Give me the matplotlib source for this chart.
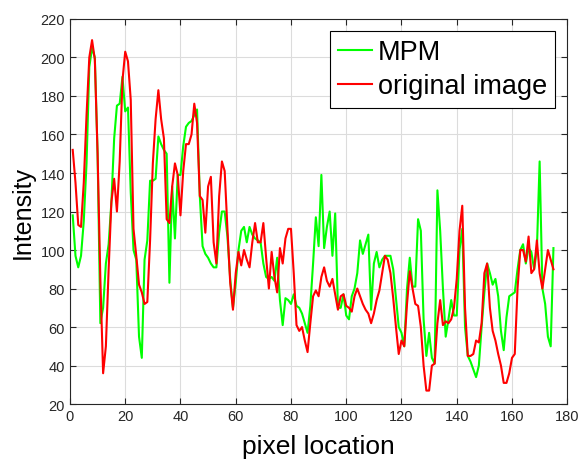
import numpy as np
import matplotlib
matplotlib.use('Agg')
import matplotlib.pyplot as plt

plt.rcParams['font.family'] = ['Liberation Sans', 'DejaVu Sans']

# pixel values, x = 1..175
mpm = [118, 97, 91, 97, 115, 145, 195, 205, 200, 150,
       62, 70, 93, 103, 125, 158, 175, 176, 190, 172,
       174, 130, 100, 95, 55, 44, 95, 105, 136, 136,
       137, 159, 155, 152, 150, 83, 133, 106, 139, 139,
       154, 164, 166, 167, 170, 173, 128, 102, 98, 96,
       93, 91, 91, 109, 120, 120, 107, 85, 70, 83,
       100, 110, 112, 104, 112, 108, 106, 105, 104, 93,
       86, 85, 86, 84, 96, 74, 61, 75, 74, 72,
       77, 71, 70, 67, 62, 57, 71, 93, 117, 102,
       139, 101, 112, 120, 97, 119, 70, 70, 77, 66,
       64, 76, 80, 88, 105, 98, 103, 108, 69, 93,
       99, 91, 95, 97, 97, 97, 90, 75, 60, 57,
       50, 80, 96, 81, 81, 116, 110, 64, 45, 57,
       44, 41, 131, 110, 80, 55, 64, 74, 66, 66,
       100, 111, 60, 45, 42, 38, 34, 40, 60, 78,
       93, 88, 82, 85, 76, 58, 48, 65, 76, 77,
       78, 90, 100, 103, 93, 101, 99, 90, 100, 146,
       80, 72, 55, 50, 101]

orig = [152, 135, 113, 112, 135, 170, 200, 209, 199, 150,
        85, 36, 50, 90, 125, 137, 120, 146, 188, 203,
        198, 178, 111, 97, 82, 78, 72, 73, 105, 145,
        168, 183, 168, 158, 116, 114, 133, 145, 139, 118,
        141, 155, 155, 160, 176, 166, 128, 126, 109, 133,
        138, 104, 93, 128, 146, 141, 111, 83, 69, 88,
        99, 92, 100, 95, 91, 104, 114, 104, 104, 114,
        96, 80, 99, 86, 78, 101, 93, 106, 111, 111,
        88, 61, 58, 60, 53, 47, 62, 76, 79, 76,
        86, 91, 84, 81, 85, 77, 69, 76, 77, 71,
        70, 68, 76, 80, 76, 72, 69, 67, 62, 67,
        74, 79, 88, 97, 95, 88, 75, 60, 46, 53,
        50, 72, 89, 80, 72, 71, 60, 40, 27, 27,
        40, 41, 62, 74, 61, 63, 62, 64, 70, 85,
        110, 123, 70, 45, 45, 46, 53, 52, 62, 88,
        93, 70, 58, 53, 46, 40, 31, 31, 36, 44,
        46, 80, 100, 100, 94, 107, 88, 90, 105, 88,
        80, 90, 100, 95, 90]

x = np.arange(1, len(mpm) + 1)

fig = plt.figure(figsize=(5.83, 4.64), dpi=100)
ax = fig.add_axes([0.120, 0.127, 0.853, 0.830])

ax.plot(x, mpm, color='#00ff00', lw=1.5, label='MPM')
ax.plot(x, orig, color='#ff0000', lw=1.5, label='original image')

ax.set_xlim(0, 180)
ax.set_ylim(20, 220)
ax.set_xticks(np.arange(0, 181, 20))
ax.set_yticks(np.arange(20, 221, 20))
ax.grid(True, color='#dcdcdc', lw=0.8)
ax.set_axisbelow(True)
ax.tick_params(direction='in', top=True, right=True, labelsize=10.5,
               colors='#262626', length=4)
for s in ax.spines.values():
    s.set_color('#262626')
    s.set_linewidth(0.8)

ax.set_xlabel('pixel location', fontsize=19, labelpad=8)
ax.set_ylabel('Intensity', fontsize=18, labelpad=4)

leg = ax.legend(loc='upper right', fontsize=19.5, fancybox=False, framealpha=1,
                edgecolor='black', handlelength=1.25, borderpad=0.3,
                labelspacing=0.3, handletextpad=0.2, borderaxespad=0.45)
leg.get_frame().set_linewidth(0.8)

fig.savefig('out.png', dpi=100)
